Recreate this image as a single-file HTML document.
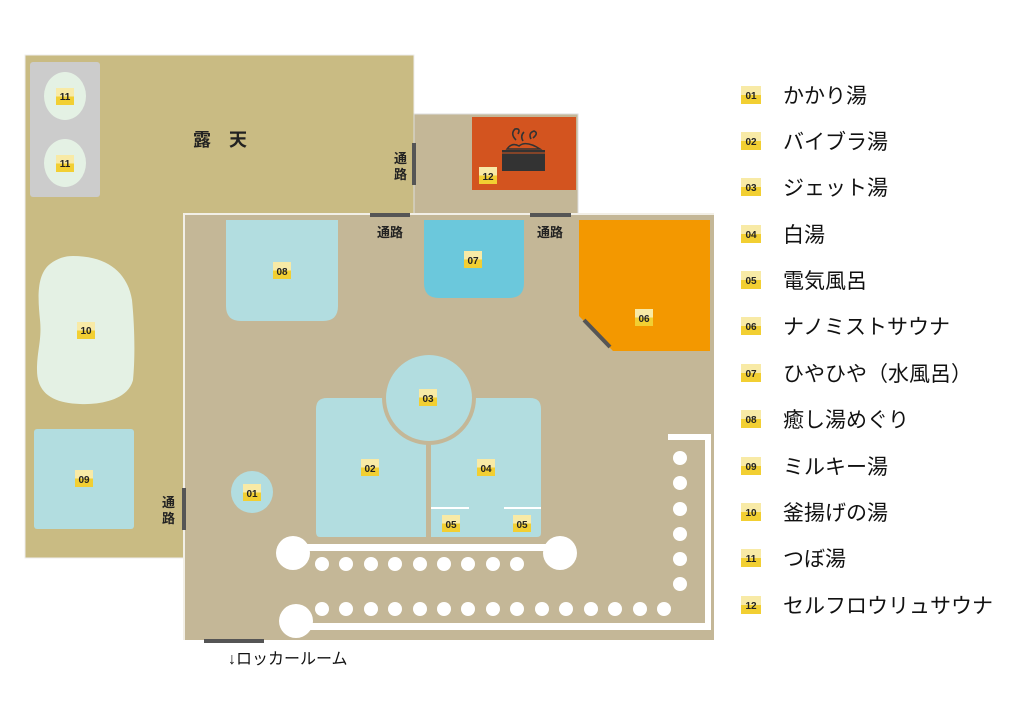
<!DOCTYPE html>
<html><head><meta charset="utf-8"><style>
html,body{margin:0;padding:0;background:#fff;width:1024px;height:724px;overflow:hidden}
svg text{font-family:"Liberation Sans","Noto Sans CJK JP",sans-serif}
.b{font-size:10px;font-weight:bold;fill:#222;text-anchor:middle}
.l{font-size:21px;fill:#111}
.j{font-size:13px;font-weight:bold;fill:#222}
</style></head><body>
<svg width="1024" height="724" viewBox="0 0 1024 724" xmlns="http://www.w3.org/2000/svg">
<defs>
<linearGradient id="g" x1="0" y1="0" x2="0" y2="1">
<stop offset="0" stop-color="#f8eaa6"/><stop offset="0.5" stop-color="#f8eaa6"/><stop offset="0.5" stop-color="#f2cf32"/><stop offset="1" stop-color="#f2cf32"/>
</linearGradient>
</defs>
<!-- outdoor -->
<rect x="25" y="55" width="389" height="503" fill="#c9bb83" stroke="#eee" stroke-width="1"/>
<rect x="30" y="62" width="70" height="135" rx="3" fill="#cccccc"/>
<ellipse cx="65" cy="96" rx="21" ry="24" fill="#e4f1e4"/>
<ellipse cx="65" cy="163" rx="21" ry="24" fill="#e4f1e4"/>
<path d="M73 256 C110 256 128 275 132 300 C135 330 135 360 133 380 C128 400 100 405 80 404 C55 403 37 395 37 370 C37 350 42 340 40 320 C38 300 36 275 50 264 C58 258 65 256 73 256Z" fill="#e4f1e4"/>
<rect x="34" y="429" width="100" height="100" rx="3" fill="#b2dde0"/>
<text x="220" y="146" style="font-size:18px;font-weight:bold;fill:#222;text-anchor:middle">露　天</text>
<!-- sauna room -->
<rect x="414" y="114" width="164" height="102" fill="#c4b797" stroke="#ddd" stroke-width="1"/>
<rect x="472" y="117" width="104" height="73" fill="#d3541f"/>
<path d="M502 150 L545 150 L545 171 L502 171Z" fill="#333"/>
<line x1="502" y1="153" x2="545" y2="153" stroke="#d3541f" stroke-width="1"/>
<path d="M507 149 Q512 142 519 146 Q526 140 540 149Z" fill="#d3541f" stroke="#333" stroke-width="1.5"/>
<path d="M516 140 q-6 -6 -1 -11 q6 -1 3 5 M523 141 q-3 -5 1 -9 M531 139 q-3 -6 3 -8 q5 2 -1 7" fill="none" stroke="#333" stroke-width="1.6"/>
<!-- main indoor -->
<rect x="184" y="214" width="530" height="426" fill="#c4b797"/>
<path d="M184 640 L184 214 L714 214" fill="none" stroke="#f2efe6" stroke-width="2"/>
<path d="M226 220 H338 V306 Q338 321 323 321 H241 Q226 321 226 306Z" fill="#b2dde0"/>
<path d="M424 220 H524 V283 Q524 298 509 298 H439 Q424 298 424 283Z" fill="#6bc8dc"/>
<path d="M579 220 H710 V351 H613 L579 316Z" fill="#f39800"/>
<line x1="584" y1="320" x2="610" y2="347" stroke="#555" stroke-width="4"/>
<!-- 02 04 03 -->
<path d="M327 398 H426 V537 H320 Q316 537 316 532 V409 Q316 398 327 398Z" fill="#b2dde0"/>
<path d="M431 398 H530 Q541 398 541 409 V533 Q541 537 537 537 H431Z" fill="#b2dde0"/>
<circle cx="429" cy="398" r="47" fill="#c4b797"/>
<circle cx="429" cy="398" r="43" fill="#b2dde0"/>
<line x1="431" y1="508" x2="469" y2="508" stroke="#fff" stroke-width="2"/>
<line x1="504" y1="508" x2="541" y2="508" stroke="#fff" stroke-width="2"/>
<circle cx="252" cy="492" r="21" fill="#b2dde0"/>
<!-- pipes -->
<rect x="296" y="544" width="264" height="7" fill="#fff"/>
<circle cx="293" cy="553" r="17" fill="#fff"/>
<circle cx="560" cy="553" r="17" fill="#fff"/>
<g fill="#fff">
<circle cx="322" cy="564" r="7"/><circle cx="346" cy="564" r="7"/><circle cx="371" cy="564" r="7"/><circle cx="395" cy="564" r="7"/><circle cx="420" cy="564" r="7"/><circle cx="444" cy="564" r="7"/><circle cx="468" cy="564" r="7"/><circle cx="493" cy="564" r="7"/><circle cx="517" cy="564" r="7"/>
<circle cx="322" cy="609" r="7"/><circle cx="346" cy="609" r="7"/><circle cx="371" cy="609" r="7"/><circle cx="395" cy="609" r="7"/><circle cx="420" cy="609" r="7"/><circle cx="444" cy="609" r="7"/><circle cx="468" cy="609" r="7"/><circle cx="493" cy="609" r="7"/><circle cx="517" cy="609" r="7"/><circle cx="542" cy="609" r="7"/><circle cx="566" cy="609" r="7"/><circle cx="591" cy="609" r="7"/><circle cx="615" cy="609" r="7"/><circle cx="640" cy="609" r="7"/><circle cx="664" cy="609" r="7"/>
<circle cx="680" cy="458" r="7"/><circle cx="680" cy="483" r="7"/><circle cx="680" cy="509" r="7"/><circle cx="680" cy="534" r="7"/><circle cx="680" cy="559" r="7"/><circle cx="680" cy="584" r="7"/>
</g>
<rect x="296" y="623" width="414" height="7" fill="#fff"/>
<circle cx="296" cy="621" r="17" fill="#fff"/>
<rect x="705" y="434" width="6" height="196" fill="#fff"/>
<rect x="668" y="434" width="43" height="6" fill="#fff"/>
<!-- doors -->
<g fill="#555">
<rect x="412" y="143" width="4" height="42"/>
<rect x="370" y="213" width="40" height="4"/>
<rect x="530" y="213" width="41" height="4"/>
<rect x="182" y="488" width="4" height="42"/>
<rect x="204" y="639" width="60" height="4"/>
</g>
<g class="j">
<text x="394" y="163">通</text><text x="394" y="179">路</text>
<text x="377" y="237">通路</text><text x="537" y="237">通路</text>
<text x="162" y="507">通</text><text x="162" y="523">路</text>
</g>
<text x="228" y="664" style="font-size:16px;fill:#111">↓ロッカールーム</text>
<!-- badges map -->
<g>
<rect x="56" y="88" width="18" height="17" fill="url(#g)"/><text class="b" x="65" y="100">11</text>
<rect x="56" y="155" width="18" height="17" fill="url(#g)"/><text class="b" x="65" y="167">11</text>
<rect x="77" y="322" width="18" height="17" fill="url(#g)"/><text class="b" x="86" y="334">10</text>
<rect x="75" y="470" width="18" height="17" fill="url(#g)"/><text class="b" x="84" y="483">09</text>
<rect x="273" y="262" width="18" height="17" fill="url(#g)"/><text class="b" x="282" y="275">08</text>
<rect x="464" y="251" width="18" height="17" fill="url(#g)"/><text class="b" x="473" y="264">07</text>
<rect x="635" y="309" width="18" height="17" fill="url(#g)"/><text class="b" x="644" y="322">06</text>
<rect x="479" y="167" width="18" height="17" fill="url(#g)"/><text class="b" x="488" y="180">12</text>
<rect x="419" y="389" width="18" height="17" fill="url(#g)"/><text class="b" x="428" y="402">03</text>
<rect x="361" y="459" width="18" height="17" fill="url(#g)"/><text class="b" x="370" y="472">02</text>
<rect x="477" y="459" width="18" height="17" fill="url(#g)"/><text class="b" x="486" y="472">04</text>
<rect x="442" y="515" width="18" height="17" fill="url(#g)"/><text class="b" x="451" y="528">05</text>
<rect x="513" y="515" width="18" height="17" fill="url(#g)"/><text class="b" x="522" y="528">05</text>
<rect x="243" y="484" width="18" height="17" fill="url(#g)"/><text class="b" x="252" y="497">01</text>
</g>
<!-- legend -->
<g>
<rect x="741" y="86" width="20" height="18" fill="url(#g)"/><text class="b" x="751" y="99">01</text><text class="l" x="783" y="103">かかり湯</text>
<rect x="741" y="132" width="20" height="18" fill="url(#g)"/><text class="b" x="751" y="145">02</text><text class="l" x="783" y="149">バイブラ湯</text>
<rect x="741" y="178" width="20" height="18" fill="url(#g)"/><text class="b" x="751" y="191">03</text><text class="l" x="783" y="195">ジェット湯</text>
<rect x="741" y="225" width="20" height="18" fill="url(#g)"/><text class="b" x="751" y="238">04</text><text class="l" x="783" y="242">白湯</text>
<rect x="741" y="271" width="20" height="18" fill="url(#g)"/><text class="b" x="751" y="284">05</text><text class="l" x="783" y="288">電気風呂</text>
<rect x="741" y="317" width="20" height="18" fill="url(#g)"/><text class="b" x="751" y="330">06</text><text class="l" x="783" y="334">ナノミストサウナ</text>
<rect x="741" y="364" width="20" height="18" fill="url(#g)"/><text class="b" x="751" y="377">07</text><text class="l" x="783" y="381">ひやひや（水風呂）</text>
<rect x="741" y="410" width="20" height="18" fill="url(#g)"/><text class="b" x="751" y="423">08</text><text class="l" x="783" y="427">癒し湯めぐり</text>
<rect x="741" y="457" width="20" height="18" fill="url(#g)"/><text class="b" x="751" y="470">09</text><text class="l" x="783" y="474">ミルキー湯</text>
<rect x="741" y="503" width="20" height="18" fill="url(#g)"/><text class="b" x="751" y="516">10</text><text class="l" x="783" y="520">釜揚げの湯</text>
<rect x="741" y="549" width="20" height="18" fill="url(#g)"/><text class="b" x="751" y="562">11</text><text class="l" x="783" y="566">つぼ湯</text>
<rect x="741" y="596" width="20" height="18" fill="url(#g)"/><text class="b" x="751" y="609">12</text><text class="l" x="783" y="613">セルフロウリュサウナ</text>
</g>
</svg>
</body></html>
